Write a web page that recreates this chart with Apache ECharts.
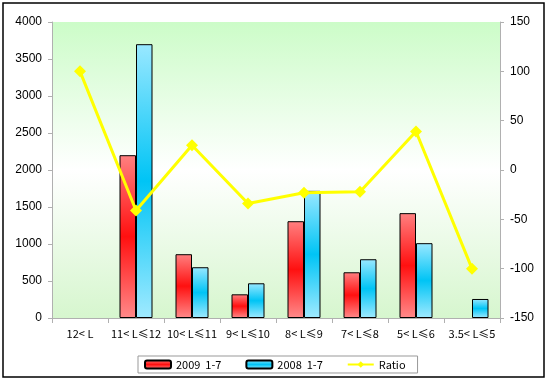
<!DOCTYPE html>
<html><head><meta charset="utf-8">
<script src="https://cdn.jsdelivr.net/npm/echarts@6/dist/echarts.min.js"></script>
<style>html,body{margin:0;padding:0;background:#fff}#c{width:547px;height:380px}</style>
</head><body><div id="c"></div>
<script>
const categories = ['12< L', '11< L≤12', '10< L≤11', '9< L≤10', '8< L≤9', '7< L≤8', '5< L≤6', '3.5< L≤5'];
const s2009 = [0, 2200, 862, 320, 1308, 618, 1417, 0];
const s2008 = [0, 3700, 686, 469, 1718, 794, 1011, 257];
const ratio = [100, -41, 25, -34, -23, -22, 39, -100];
const seriesNames = ['2009  1-7', '2008  1-7', 'Ratio'];

const G = echarts.graphic.LinearGradient;
const redGrad = new G(0, 0, 0, 1, [{offset:0,color:'#ff8080'},{offset:0.5,color:'#ff1010'},{offset:1,color:'#ff8a8a'}]);
const blueGrad = new G(0, 0, 0, 1, [{offset:0,color:'#99e8ff'},{offset:0.5,color:'#00c4f5'},{offset:1,color:'#a0eaff'}]);
const bgGrad = new G(0, 0, 0, 1, [{offset:0,color:'#ccfcc8'},{offset:0.5,color:'#ffffff'},{offset:1,color:'#d6f6ce'}]);
const nz = a => a.map(v => v === 0 ? '-' : v);

const chart = echarts.init(document.getElementById('c'), null, {renderer:'canvas'});
chart.setOption({
  animation: false,
  backgroundColor: '#fff',
  graphic: [{type:'rect', shape:{x:3,y:3,width:541,height:374}, style:{fill:'none', stroke:'#000', lineWidth:1.5}, z:100}],
  grid: {left:52, right:47, top:22, bottom:62, show:true, backgroundColor:bgGrad, borderWidth:0},
  legend: {
    data: seriesNames, left:138, top:356, width:275, padding:[3,12,3,6],
    borderColor:'#999', borderWidth:1, itemGap:24, itemWidth:26, itemHeight:8,
    textStyle:{fontFamily:'Noto Sans CJK SC', fontSize:11, color:'#000'}
  },
  xAxis: {
    type:'category', data:categories,
    axisLine:{lineStyle:{color:'#b0b0b0', width:1}},
    axisTick:{show:true, alignWithLabel:false, lineStyle:{color:'#b0b0b0'}, length:5},
    axisLabel:{fontFamily:'Noto Sans CJK SC', fontSize:11, color:'#000', margin:10, interval:0}
  },
  yAxis: [
    {type:'value', min:0, max:4000, interval:500, position:'left',
     axisLine:{show:true, lineStyle:{color:'#b0b0b0'}}, axisTick:{show:true, length:4, lineStyle:{color:'#b0b0b0'}},
     splitLine:{show:false},
     axisLabel:{fontFamily:'Liberation Sans', fontSize:12, color:'#000', margin:10, formatter: v => String(v)}},
    {type:'value', min:-150, max:150, interval:50, position:'right',
     axisLine:{show:true, lineStyle:{color:'#b0b0b0'}}, axisTick:{show:true, length:4, lineStyle:{color:'#b0b0b0'}},
     splitLine:{show:false},
     axisLabel:{fontFamily:'Liberation Sans', fontSize:12, color:'#000', margin:10, formatter: v => String(v)}}
  ],
  series: [
    {name:seriesNames[0], type:'bar', data:nz(s2009), barWidth:16.5, barGap:'0%',
     itemStyle:{color:redGrad, borderColor:'#000', borderWidth:1}},
    {name:seriesNames[1], type:'bar', data:nz(s2008), barWidth:16.5,
     itemStyle:{color:blueGrad, borderColor:'#000', borderWidth:1}},
    {name:seriesNames[2], type:'line', yAxisIndex:1, data:ratio,
     symbol:'diamond', symbolSize:12, lineStyle:{color:'#ffff00', width:3},
     itemStyle:{color:'#ffff00'}, z:10}
  ]
});
</script></body></html>
